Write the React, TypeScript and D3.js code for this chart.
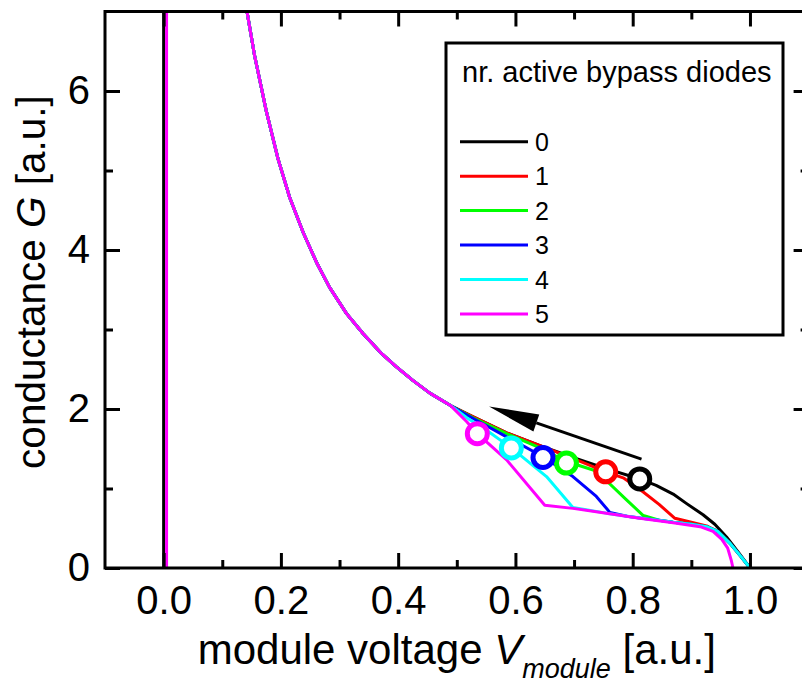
import React, { useEffect, useRef } from "react";
import * as d3 from "d3";

// values, module voltage V (a.u.) vs conductance G (a.u.)
const diodeLabels = ["0", "1", "2", "3", "4", "5"];
const seriesColors = ["#000000", "#ff0000", "#00ff00", "#0000ff", "#00ffff", "#ff00ff"];

// branch that all six curves share
const upperBranch: [number, number][] = [
  [0.128, 7.8], [0.141, 7.05], [0.155, 6.45], [0.175, 5.75], [0.195, 5.15], [0.215, 4.66],
  [0.238, 4.22], [0.261, 3.84], [0.283, 3.53], [0.312, 3.2], [0.34, 2.95], [0.37, 2.71],
  [0.397, 2.53], [0.425, 2.36], [0.454, 2.2], [0.49, 2.04],
];

// where each curve leaves the shared branch
const tail0: [number, number][] = [
  [0.528, 1.9], [0.585, 1.7], [0.642, 1.54], [0.698, 1.39], [0.755, 1.25], [0.812, 1.12],
  [0.84, 1.04], [0.869, 0.93], [0.892, 0.81], [0.92, 0.67], [0.94, 0.55], [0.96, 0.39],
  [0.98, 0.2], [1.0, 0],
];
const tail1: [number, number][] = [
  [0.528, 1.9], [0.585, 1.7], [0.642, 1.54], [0.698, 1.38], [0.754, 1.21], [0.785, 1.13],
  [0.812, 0.99], [0.845, 0.8], [0.872, 0.625], [0.9, 0.575], [0.926, 0.53], [0.945, 0.46],
  [0.966, 0.31], [0.985, 0.14], [1.0, 0],
];
const tail2: [number, number][] = [
  [0.528, 1.89], [0.585, 1.69], [0.642, 1.51], [0.687, 1.34], [0.738, 1.22], [0.789, 0.86],
  [0.818, 0.66], [0.845, 0.6], [0.869, 0.575], [0.9, 0.55], [0.926, 0.52], [0.945, 0.46],
  [0.966, 0.31], [0.985, 0.14], [1.0, 0],
];
const tail3: [number, number][] = [
  [0.528, 1.88], [0.585, 1.65], [0.647, 1.4], [0.698, 1.15], [0.738, 0.9], [0.761, 0.7],
  [0.79, 0.65], [0.812, 0.63], [0.845, 0.6], [0.869, 0.575], [0.9, 0.55], [0.926, 0.52],
  [0.945, 0.46], [0.966, 0.31], [0.985, 0.14], [1.0, 0],
];
const tail4: [number, number][] = [
  [0.517, 1.89], [0.555, 1.71], [0.593, 1.51], [0.653, 1.15], [0.698, 0.76], [0.755, 0.69],
  [0.812, 0.63], [0.845, 0.6], [0.869, 0.575], [0.9, 0.55], [0.926, 0.52], [0.945, 0.46],
  [0.966, 0.31], [0.985, 0.14], [1.0, 0],
];
const tail5: [number, number][] = [
  [0.517, 1.84], [0.535, 1.69], [0.585, 1.36], [0.65, 0.79], [0.698, 0.75], [0.755, 0.69],
  [0.812, 0.625], [0.869, 0.57], [0.915, 0.52], [0.937, 0.46], [0.952, 0.36], [0.962, 0.25],
  [0.968, 0.1], [0.971, 0],
];
const tails = [tail0, tail1, tail2, tail3, tail4, tail5];

// vertical parts at V ~ 0 (only black and magenta show)
const zeroLineV = [0, 0.005];
const zeroLineColor = ["#000000", "#ff00ff"];

// operating points (open circles)
const markerV = [0.812, 0.754, 0.687, 0.647, 0.593, 0.535];
const markerG = [1.12, 1.21, 1.32, 1.39, 1.51, 1.69];

// arrow, tail -> tip
const arrowFrom: [number, number] = [0.815, 1.37];
const arrowTo: [number, number] = [0.555, 2.03];

const xMajor = [0, 0.2, 0.4, 0.6, 0.8, 1.0];
const xMinor = [0.1, 0.3, 0.5, 0.7, 0.9];
const yMajor = [0, 2, 4, 6];
const yMinor = [1, 3, 5];

const FONT = "'Liberation Sans', Arial, sans-serif";

function Chart() {
  const ref = useRef<SVGSVGElement>(null);

  useEffect(() => {
    document.body.style.margin = "0";
    const svg = d3.select(ref.current);
    svg.selectAll("*").remove();

    const left = 105, right = 808.6, top = 11.5, bottom = 568;
    const x = d3.scaleLinear().domain([-0.1, 1.1]).range([left, right]);
    const y = d3.scaleLinear().domain([0, 7]).range([bottom, top]);

    svg.append("defs").append("clipPath").attr("id", "plotclip")
      .append("rect").attr("x", left).attr("y", top)
      .attr("width", right - left).attr("height", bottom - top);

    const plot = svg.append("g").attr("clip-path", "url(#plotclip)");

    const line = d3.line<[number, number]>()
      .x(d => x(d[0]))
      .y(d => y(d[1]));

    // zero voltage verticals
    zeroLineV.forEach((v, i) => {
      plot.append("line")
        .attr("x1", x(v)).attr("x2", x(v))
        .attr("y1", y(0)).attr("y2", y(7))
        .attr("stroke", zeroLineColor[i])
        .attr("stroke-width", 3);
    });

    tails.forEach((t, i) => {
      plot.append("path")
        .datum(upperBranch.concat(t))
        .attr("d", line)
        .attr("fill", "none")
        .attr("stroke", seriesColors[i])
        .attr("stroke-width", 3)
        .attr("stroke-linejoin", "round");
    });

    markerV.forEach((v, i) => {
      plot.append("circle")
        .attr("cx", x(v)).attr("cy", y(markerG[i]))
        .attr("r", 10)
        .attr("fill", "white")
        .attr("stroke", seriesColors[i])
        .attr("stroke-width", 5);
    });

    // arrow
    const ax0 = x(arrowFrom[0]), ay0 = y(arrowFrom[1]);
    const ax1 = x(arrowTo[0]), ay1 = y(arrowTo[1]);
    const ang = Math.atan2(ay1 - ay0, ax1 - ax0);
    const headLen = 50, headHalf = 9;
    const bx = ax1 - headLen * Math.cos(ang), by = ay1 - headLen * Math.sin(ang);
    plot.append("line")
      .attr("x1", ax0).attr("y1", ay0).attr("x2", bx).attr("y2", by)
      .attr("stroke", "black").attr("stroke-width", 3);
    plot.append("polygon")
      .attr("points", [
        [ax1, ay1],
        [bx + headHalf * Math.sin(ang), by - headHalf * Math.cos(ang)],
        [bx - headHalf * Math.sin(ang), by + headHalf * Math.cos(ang)],
      ].map(p => p.join(",")).join(" "))
      .attr("fill", "black");

    // frame
    svg.append("rect")
      .attr("x", left).attr("y", top)
      .attr("width", right - left).attr("height", bottom - top)
      .attr("fill", "none").attr("stroke", "black").attr("stroke-width", 3);

    const styleAxis = (g: any) => {
      g.select(".domain").remove();
      g.selectAll("line").attr("stroke-width", 3);
      g.selectAll("text").attr("font-family", FONT).attr("font-size", 40).attr("fill", "black");
    };

    svg.append("g").attr("transform", `translate(0,${bottom})`)
      .call(d3.axisBottom(x).tickValues(xMajor).tickSize(-15).tickPadding(18).tickFormat(d3.format(".1f")))
      .call(styleAxis);
    svg.append("g").attr("transform", `translate(0,${bottom})`)
      .call(d3.axisBottom(x).tickValues(xMinor).tickSize(-8).tickFormat(() => ""))
      .call(styleAxis);
    svg.append("g").attr("transform", `translate(0,${top})`)
      .call(d3.axisTop(x).tickValues(xMajor).tickSize(-15).tickFormat(() => ""))
      .call(styleAxis);
    svg.append("g").attr("transform", `translate(0,${top})`)
      .call(d3.axisTop(x).tickValues(xMinor).tickSize(-8).tickFormat(() => ""))
      .call(styleAxis);
    svg.append("g").attr("transform", `translate(${left},0)`)
      .call(d3.axisLeft(y).tickValues(yMajor).tickSize(-15).tickPadding(15).tickFormat(d3.format("d")))
      .call(styleAxis);
    svg.append("g").attr("transform", `translate(${left},0)`)
      .call(d3.axisLeft(y).tickValues(yMinor).tickSize(-8).tickFormat(() => ""))
      .call(styleAxis);
    svg.append("g").attr("transform", `translate(${right},0)`)
      .call(d3.axisRight(y).tickValues(yMajor).tickSize(-15).tickFormat(() => ""))
      .call(styleAxis);
    svg.append("g").attr("transform", `translate(${right},0)`)
      .call(d3.axisRight(y).tickValues(yMinor).tickSize(-8).tickFormat(() => ""))
      .call(styleAxis);

    // axis titles
    const xt = svg.append("text")
      .attr("x", (left + right) / 2).attr("y", 664)
      .attr("text-anchor", "middle")
      .attr("font-family", FONT).attr("font-size", 42).attr("fill", "black");
    xt.append("tspan").text("module voltage ");
    xt.append("tspan").attr("font-style", "italic").text("V");
    xt.append("tspan").attr("font-style", "italic").attr("font-size", 27).attr("dy", 14).text("module");
    xt.append("tspan").attr("dy", -14).text(" [a.u.]");

    const yt = svg.append("text")
      .attr("transform", `translate(45,282) rotate(-90)`)
      .attr("text-anchor", "middle")
      .attr("font-family", FONT).attr("font-size", 40.5).attr("fill", "black");
    yt.append("tspan").text("conductance ");
    yt.append("tspan").attr("font-style", "italic").text("G");
    yt.append("tspan").text(" [a.u.]");

    // legend
    const lg = svg.append("g");
    lg.append("rect")
      .attr("x", 446).attr("y", 43).attr("width", 337).attr("height", 292)
      .attr("fill", "white").attr("stroke", "black").attr("stroke-width", 3);
    lg.append("text")
      .attr("x", 462).attr("y", 82)
      .attr("font-family", FONT).attr("font-size", 29).attr("fill", "black")
      .text("nr. active bypass diodes");
    diodeLabels.forEach((lab, i) => {
      const cy = 141.7 + i * 34.45;
      lg.append("line")
        .attr("x1", 460).attr("x2", 528).attr("y1", cy).attr("y2", cy)
        .attr("stroke", seriesColors[i]).attr("stroke-width", 3);
      lg.append("text")
        .attr("x", 535).attr("y", cy + 9)
        .attr("font-family", FONT).attr("font-size", 25).attr("fill", "black")
        .text(lab);
    });
  }, []);

  return <svg ref={ref} width={802} height={685} style={{ display: "block", background: "white" }} />;
}

export default function App() {
  return <Chart />;
}
